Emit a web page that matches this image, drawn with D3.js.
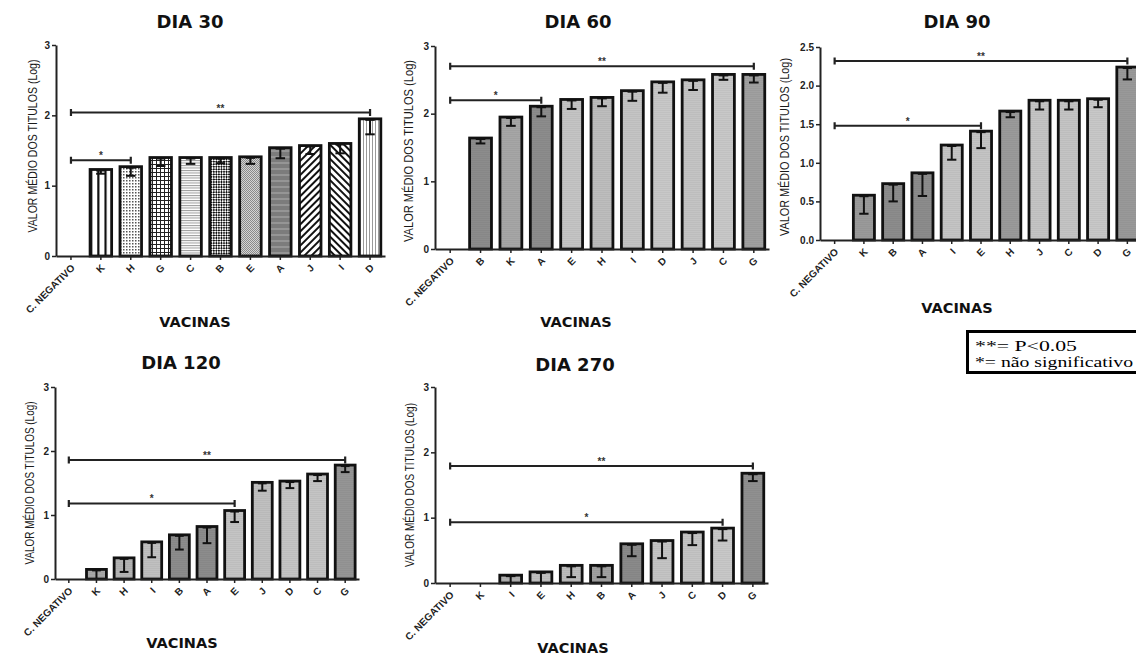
<!DOCTYPE html>
<html>
<head>
<meta charset="utf-8">
<script src="https://cdn.jsdelivr.net/npm/d3@7"></script>
<style>
  body { margin: 0; background: #fff; }
  .tick text { font-family: "Liberation Sans", Arial, sans-serif; font-weight: bold; fill: #222; }
</style>
</head>
<body>
<svg id="chart" width="1136" height="655"></svg>
<script>
'use strict';

// ---- data ----
const yTicks3 = [0, 1, 2, 3];
const yTicks25 = [0, 0.5, 1, 1.5, 2, 2.5];

const cats30 = ["C. NEGATIVO", "K", "H", "G", "C", "B", "E", "A", "J", "I", "D"];
const vals30 = [0, 1.23, 1.27, 1.40, 1.40, 1.40, 1.41, 1.54, 1.57, 1.60, 1.95];
const errs30 = [0, 0.06, 0.13, 0.12, 0.09, 0.08, 0.10, 0.15, 0.12, 0.14, 0.22];
const sig30 = [["C. NEGATIVO", "D", 2.04, "**"], ["C. NEGATIVO", "H", 1.36, "*"]];

const cats60 = ["C. NEGATIVO", "B", "K", "A", "E", "H", "I", "D", "J", "C", "G"];
const vals60 = [0, 1.64, 1.95, 2.11, 2.21, 2.24, 2.34, 2.47, 2.50, 2.58, 2.58];
const errs60 = [0, 0.08, 0.13, 0.15, 0.14, 0.13, 0.15, 0.16, 0.15, 0.08, 0.12];
const sig60 = [["C. NEGATIVO", "G", 2.70, "**"], ["C. NEGATIVO", "A", 2.20, "*"]];

const cats90 = ["C. NEGATIVO", "K", "B", "A", "I", "E", "H", "J", "C", "D", "G"];
const vals90 = [0, 0.58, 0.73, 0.87, 1.23, 1.41, 1.67, 1.81, 1.81, 1.83, 2.24];
const errs90 = [0, 0.24, 0.23, 0.30, 0.19, 0.22, 0.08, 0.12, 0.12, 0.11, 0.16];
const sig90 = [["C. NEGATIVO", "G", 2.32, "**"], ["C. NEGATIVO", "E", 1.48, "*"]];

const cats120 = ["C. NEGATIVO", "K", "H", "I", "B", "A", "E", "J", "D", "C", "G"];
const vals120 = [0, 0.15, 0.33, 0.58, 0.69, 0.82, 1.07, 1.51, 1.53, 1.64, 1.78];
const errs120 = [0, 0.15, 0.22, 0.24, 0.23, 0.26, 0.18, 0.13, 0.11, 0.11, 0.11];
const sig120 = [["C. NEGATIVO", "G", 1.86, "**"], ["C. NEGATIVO", "E", 1.18, "*"]];

const cats270 = ["C. NEGATIVO", "K", "I", "E", "H", "B", "A", "J", "C", "D", "G"];
const vals270 = [0, 0, 0.12, 0.17, 0.27, 0.27, 0.60, 0.65, 0.78, 0.84, 1.68];
const errs270 = [0, 0, 0.12, 0.17, 0.18, 0.18, 0.19, 0.27, 0.20, 0.19, 0.12];
const sig270 = [["C. NEGATIVO", "G", 1.79, "**"], ["C. NEGATIVO", "D", 0.93, "*"]];

// ---- bar fills (style) ----
const fill30 = ["none", "url(#p-vst)", "url(#p-dot)", "url(#p-grid)", "url(#p-hln)", "url(#p-chk)",
                "url(#p-fin)", "url(#p-agr)", "url(#p-dg1)", "url(#p-dg2)", "url(#p-vth)"];
const fill60 = ["none", "#8c8c8c", "#a6a6a6", "#8c8c8c", "#c4c4c4", "#bdbdbd", "#c4c4c4", "#c8c8c8", "#c4c4c4", "#c8c8c8", "#a0a0a0"];
const fill90 = ["none", "#9a9a9a", "#8c8c8c", "#8c8c8c", "#c4c4c4", "#c4c4c4", "#9a9a9a", "#c4c4c4", "#c4c4c4", "#c8c8c8", "#999999"];
const fill120 = ["none", "#a8a8a8", "#b4b4b4", "#c0c0c0", "#8c8c8c", "#8c8c8c", "#c4c4c4", "#c0c0c0", "#c4c4c4", "#c4c4c4", "#959595"];
const fill270 = ["none", "none", "#b0b0b0", "#c0c0c0", "#bcbcbc", "#a0a0a0", "#8a8a8a", "#c4c4c4", "#c4c4c4", "#c8c8c8", "#909090"];

const panels = [
  { title: "DIA 30", cats: cats30, vals: vals30, errs: errs30, sig: sig30, fills: fill30, yMax: 3, ticks: yTicks3, fmt: "d",
    ax: 56, y0: 256, yTop: 45, end: 385, tx: 190, ty: 28, vx: 195, vy: 327, lx: 32, ly: 146, lLen: 173 },
  { title: "DIA 60", cats: cats60, vals: vals60, errs: errs60, sig: sig60, fills: fill60, yMax: 3, ticks: yTicks3, fmt: "d",
    ax: 435, y0: 249, yTop: 46, end: 769, tx: 578, ty: 28, vx: 576, vy: 327, lx: 408, ly: 151, lLen: 182 },
  { title: "DIA 90", cats: cats90, vals: vals90, errs: errs90, sig: sig90, fills: fill90, yMax: 2.5, ticks: yTicks25, fmt: ".1f",
    ax: 820, y0: 240, yTop: 47, end: 1142, tx: 957, ty: 28, vx: 957, vy: 313, lx: 784, ly: 147, lLen: 178 },
  { title: "DIA 120", cats: cats120, vals: vals120, errs: errs120, sig: sig120, fills: fill120, yMax: 3, ticks: yTicks3, fmt: "d",
    ax: 55, y0: 579, yTop: 387, end: 359, tx: 181, ty: 369, vx: 182, vy: 648, lx: 29, ly: 483, lLen: 163 },
  { title: "DIA 270", cats: cats270, vals: vals270, errs: errs270, sig: sig270, fills: fill270, yMax: 3, ticks: yTicks3, fmt: "d",
    ax: 435, y0: 583, yTop: 387, end: 768, tx: 575, ty: 371, vx: 573, vy: 653, lx: 409, ly: 485, lLen: 164 }
];

const svg = d3.select("#chart");
const defs = svg.append("defs");

// patterns for DIA 30
function pat(id, w, h, opts) {
  const p = defs.append("pattern").attr("id", id).attr("patternUnits", "userSpaceOnUse")
    .attr("width", w).attr("height", h);
  if (opts && opts.rot) p.attr("patternTransform", `rotate(${opts.rot})`);
  p.append("rect").attr("width", w).attr("height", h).attr("fill", (opts && opts.bg) || "#fff");
  return p;
}

// K: white with two black vertical stripes
const vst = defs.append("pattern").attr("id", "p-vst")
  .attr("patternUnits", "objectBoundingBox").attr("patternContentUnits", "userSpaceOnUse")
  .attr("width", 1 / 3).attr("height", 1);
vst.append("rect").attr("width", 40).attr("height", 400).attr("fill", "#fff");
vst.append("rect").attr("width", 2.2).attr("height", 400).attr("fill", "#111");

pat("p-dot", 3, 3).append("rect").attr("width", 1.5).attr("height", 1.5).attr("fill", "#555");
pat("p-grid", 4, 4).append("path").attr("d", "M0 0.5H4M0.5 0V4").attr("stroke", "#222").attr("stroke-width", 1);
pat("p-hln", 2.5, 2.5).append("rect").attr("width", 2.5).attr("height", 1).attr("fill", "#9a9a9a");
const chk = pat("p-chk", 3.6, 3.6, { rot: 45 });
chk.append("rect").attr("width", 1.8).attr("height", 1.8).attr("fill", "#111");
chk.append("rect").attr("x", 1.8).attr("y", 1.8).attr("width", 1.8).attr("height", 1.8).attr("fill", "#111");
const fin = pat("p-fin", 2, 2, { bg: "#d4d4d4" });
fin.append("rect").attr("width", 1).attr("height", 1).attr("fill", "#8a8a8a");
fin.append("rect").attr("x", 1).attr("y", 1).attr("width", 1).attr("height", 1).attr("fill", "#8a8a8a");
const agr = pat("p-agr", 4, 6, { bg: "#7c7c7c" });
agr.append("rect").attr("width", 4).attr("height", 2).attr("fill", "#959595");
pat("p-dg1", 5, 5, { rot: 45 }).append("rect").attr("width", 2).attr("height", 5).attr("fill", "#111");
pat("p-dg2", 5, 5, { rot: -45 }).append("rect").attr("width", 2).attr("height", 5).attr("fill", "#111");
pat("p-vth", 3, 3).append("rect").attr("width", 1).attr("height", 3).attr("fill", "#9a9a9a");

// gray bars get faint horizontal lines
function grayFill(c) {
  if (c === "none" || c.startsWith("url")) return c;
  const id = "g" + c.slice(1);
  if (defs.select("#" + id).empty()) {
    const p = pat(id, 4, 2, { bg: c });
    p.append("rect").attr("width", 4).attr("height", 0.8).attr("fill", d3.color(c).darker(0.12));
  }
  return `url(#${id})`;
}

panels.forEach(p => {
  const g = svg.append("g");
  const x = d3.scaleBand().domain(p.cats).range([p.ax, p.end]).paddingInner(0.28).paddingOuter(0.14);
  const y = d3.scaleLinear().domain([0, p.yMax]).range([p.y0, p.yTop]);
  const cx = c => x(c) + x.bandwidth() / 2;

  const rows = p.cats.map((c, i) => ({ c: c, v: p.vals[i], e: p.errs[i], f: p.fills[i] })).filter(d => d.v > 0);

  // bars
  g.selectAll("rect.bar").data(rows).join("rect")
    .attr("class", "bar")
    .attr("x", d => x(d.c))
    .attr("y", d => y(d.v))
    .attr("width", x.bandwidth())
    .attr("height", d => y(0) - y(d.v))
    .attr("fill", d => grayFill(d.f))
    .attr("stroke", "#111")
    .attr("stroke-width", 2.8);

  // error bars (lower half)
  const cap = x.bandwidth() * 0.22;
  const eb = g.selectAll("g.err").data(rows.filter(d => d.e > 0)).join("g").attr("class", "err")
    .attr("stroke", "#111").attr("stroke-width", 2);
  eb.append("line").attr("x1", d => cx(d.c)).attr("x2", d => cx(d.c))
    .attr("y1", d => y(d.v)).attr("y2", d => y(Math.max(0, d.v - d.e)));
  eb.append("line").attr("x1", d => cx(d.c) - cap).attr("x2", d => cx(d.c) + cap)
    .attr("y1", d => y(Math.max(0, d.v - d.e))).attr("y2", d => y(Math.max(0, d.v - d.e)));
  eb.append("line").attr("x1", d => cx(d.c) - cap).attr("x2", d => cx(d.c) + cap)
    .attr("y1", d => y(d.v) + 1).attr("y2", d => y(d.v) + 1);

  // significance brackets
  const sg = g.selectAll("g.sig").data(p.sig).join("g").attr("class", "sig");
  sg.append("line").attr("x1", d => cx(d[0])).attr("x2", d => cx(d[1]))
    .attr("y1", d => y(d[2])).attr("y2", d => y(d[2]))
    .attr("stroke", "#222").attr("stroke-width", 2);
  sg.append("path")
    .attr("d", d => `M${cx(d[0])},${y(d[2]) - 3.5}V${y(d[2]) + 3.5}M${cx(d[1])},${y(d[2]) - 3.5}V${y(d[2]) + 3.5}`)
    .attr("stroke", "#222").attr("stroke-width", 2.2);
  sg.append("text")
    .attr("x", d => (cx(d[0]) + cx(d[1])) / 2)
    .attr("y", d => y(d[2]) - 1)
    .attr("text-anchor", "middle")
    .style("font-family", "Liberation Sans, Arial, sans-serif")
    .style("font-size", "10px").style("font-weight", "bold").style("fill", "#333")
    .text(d => d[3]);

  // axes
  const yAxis = g.append("g").attr("transform", `translate(${p.ax},0)`)
    .call(d3.axisLeft(y).tickValues(p.ticks).tickFormat(d3.format(p.fmt)).tickSize(4).tickSizeOuter(0));
  yAxis.select(".domain").attr("stroke", "#222").attr("stroke-width", 2);
  yAxis.selectAll(".tick line").attr("stroke", "#222").attr("stroke-width", 1.5);
  yAxis.selectAll(".tick text").attr("x", -6).style("font-size", "10px");

  const xAxis = g.append("g").attr("transform", `translate(0,${p.y0})`)
    .call(d3.axisBottom(x).tickSize(4).tickSizeOuter(0));
  xAxis.select(".domain").attr("stroke", "#222").attr("stroke-width", 2);
  xAxis.selectAll(".tick line").attr("stroke", "#222").attr("stroke-width", 1.5);
  xAxis.selectAll(".tick text")
    .attr("x", 0).attr("y", 0).attr("dy", "0.35em")
    .attr("text-anchor", "end")
    .style("font-size", "10px")
    .attr("transform", "translate(2,10) rotate(-45)");

  // titles
  g.append("text").attr("x", p.tx).attr("y", p.ty).attr("text-anchor", "middle")
    .style("font-family", "DejaVu Sans, sans-serif").style("font-weight", "bold").style("font-size", "18px")
    .style("fill", "#111").text(p.title);
  g.append("text").attr("x", p.vx).attr("y", p.vy).attr("text-anchor", "middle")
    .style("font-family", "DejaVu Sans, sans-serif").style("font-weight", "bold").style("font-size", "14.5px")
    .style("fill", "#111").text("VACINAS");
  g.append("text")
    .attr("transform", `translate(${p.lx},${p.ly}) rotate(-90)`)
    .attr("x", -p.lLen / 2).attr("dy", "0.35em")
    .attr("textLength", p.lLen).attr("lengthAdjust", "spacingAndGlyphs")
    .style("font-family", "Liberation Sans, Arial, sans-serif").style("font-size", "13px")
    .style("fill", "#1a1a1a").text("VALOR MÉDIO DOS TITULOS (Log)");
});

// legend box
const lg = svg.append("g");
lg.append("rect").attr("x", 967.5).attr("y", 331.5).attr("width", 172).attr("height", 41)
  .attr("fill", "#fff").attr("stroke", "#000").attr("stroke-width", 3);
lg.append("text").attr("x", 975).attr("y", 351).attr("textLength", 102).attr("lengthAdjust", "spacingAndGlyphs")
  .style("font-family", "Liberation Serif, serif").style("font-size", "15px").text("**= P<0.05");
lg.append("text").attr("x", 975).attr("y", 367).attr("textLength", 158).attr("lengthAdjust", "spacingAndGlyphs")
  .style("font-family", "Liberation Serif, serif").style("font-size", "15px").text("*= não significativo");
</script>
</body>
</html>
